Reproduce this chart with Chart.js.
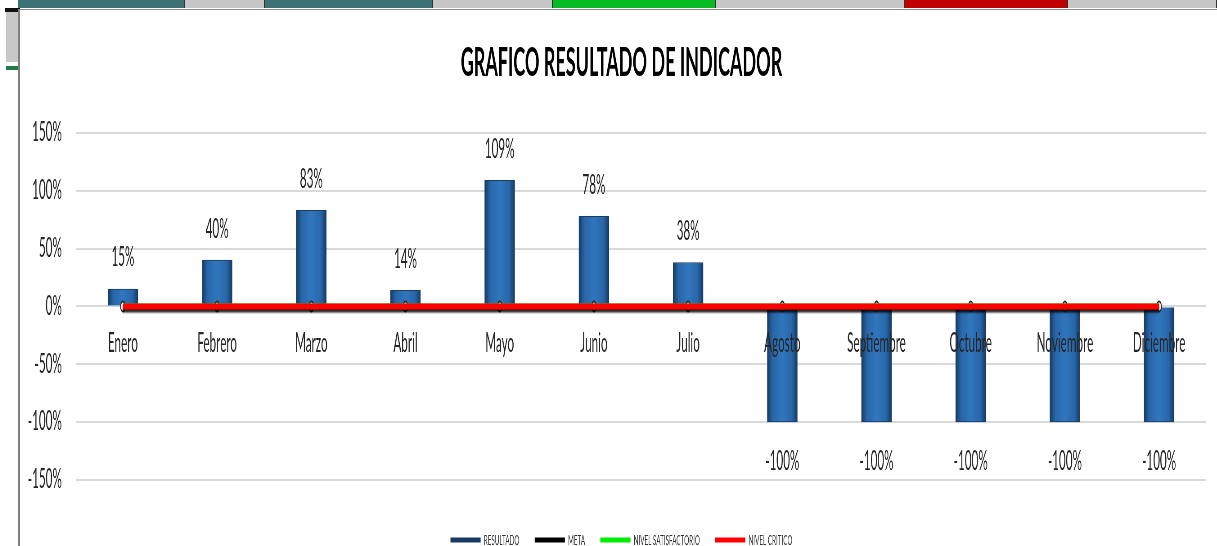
<!DOCTYPE html>
<html>
<head>
<meta charset="utf-8">
<script src="https://cdn.jsdelivr.net/npm/chart.js@4.4.1/dist/chart.umd.min.js"></script>
<style>
  body { margin: 0; background: #fff; width: 1217px; height: 546px; overflow: hidden; position: relative; }
  .cell { position: absolute; top: 0; height: 8px; border-right: 1px solid #333; box-sizing: border-box; }
  #frame { position: absolute; left: 18px; top: 9px; width: 1199px; height: 537px; box-sizing: border-box;
           border-left: 2px solid #7f7f7f; border-top: 1px solid #8c8c8c; background: #fff; overflow: hidden; }
  #squeeze { position: absolute; left: 0; top: 0; transform: scaleX(0.45); transform-origin: 0 0; }
</style>
</head>
<body>
<div class="cell" style="left:18px;width:167px;background:#3c7273"></div>
<div class="cell" style="left:185px;width:80px;background:#c6c6c6"></div>
<div class="cell" style="left:265px;width:168px;background:#3c7273"></div>
<div class="cell" style="left:433px;width:120px;background:#c6c6c6"></div>
<div class="cell" style="left:553px;width:163px;background:#08bb22"></div>
<div class="cell" style="left:716px;width:189px;background:#c6c6c6"></div>
<div class="cell" style="left:905px;width:163px;background:#c00000"></div>
<div class="cell" style="left:1068px;width:149px;background:#c6c6c6"></div>
<div style="position:absolute;left:5px;top:8px;width:15px;height:4px;background:#111"></div>
<div style="position:absolute;left:6px;top:12px;width:12px;height:50px;background:#c8c8c8"></div>
<div style="position:absolute;left:6px;top:66px;width:12px;height:4px;background:#1f7a45"></div>
<div id="frame">
  <div id="squeeze"><canvas id="chart" width="2673" height="547"></canvas></div>
</div>
<script>
// datos del indicador
const meses = ['Enero', 'Febrero', 'Marzo', 'Abril', 'Mayo', 'Junio', 'Julio', 'Agosto', 'Septiembre', 'Octubre', 'Noviembre', 'Diciembre'];
const resultado = [15, 40, 83, 14, 109, 78, 38, -100, -100, -100, -100, -100];
const meta = [0, 0, 0, 0, 0, 0, 0, 0, 0, 0, 0, 0];
const nivelSatisfactorio = [0, 0, 0, 0, 0, 0, 0, 0, 0, 0, 0, 0];
const nivelCritico = [0, 0, 0, 0, 0, 0, 0, 0, 0, 0, 0, 0];
const ejeY = [-150, -100, -50, 0, 50, 100, 150];

const FUENTE = 'Lato, "Open Sans", sans-serif';
const ANCHO_BARRA = 67;

// relleno con efecto 3D de las barras
function rellenoBarra(context) {
  const chart = context.chart;
  if (context.type !== 'data' || !chart.scales.x) return '#2a65a5';
  const x = chart.scales.x.getPixelForValue(context.dataIndex);
  if (!isFinite(x)) return '#2a65a5';
  const g = chart.ctx.createLinearGradient(x - ANCHO_BARRA / 2, 0, x + ANCHO_BARRA / 2, 0);
  g.addColorStop(0, '#163a63');
  g.addColorStop(0.18, '#2866a8');
  g.addColorStop(0.5, '#3176bd');
  g.addColorStop(0.82, '#2866a8');
  g.addColorStop(1, '#163a63');
  return g;
}

// etiquetas de valor sobre / bajo las barras
const etiquetas = {
  id: 'etiquetas',
  afterDatasetsDraw(chart) {
    const ctx = chart.ctx;
    const barras = chart.getDatasetMeta(0).data;
    ctx.save();
    ctx.font = '26px ' + FUENTE;
    ctx.fillStyle = '#262626';
    ctx.textAlign = 'center';
    ctx.textBaseline = 'middle';
    barras.forEach((bar, i) => {
      const v = resultado[i];
      const y = v >= 0 ? bar.y - 31 : bar.y + 40;
      ctx.fillText(v + '%', bar.x, y);
    });
    ctx.restore();
  }
};

// sombra bajo la linea roja
const sombra = {
  id: 'sombra',
  beforeDatasetDraw(chart, args) {
    if (args.index !== 3) return;
    const ctx = chart.ctx;
    ctx.save();
    ctx.shadowColor = 'rgba(0, 0, 0, 0.85)';
    ctx.shadowOffsetY = 3;
    ctx.shadowBlur = 2;
  },
  afterDatasetDraw(chart, args) {
    if (args.index !== 3) return;
    chart.ctx.restore();
  }
};

const ctx = document.getElementById('chart').getContext('2d');
const chart = new Chart(ctx, {
  data: {
    labels: meses,
    datasets: [
      {
        type: 'bar',
        label: 'RESULTADO',
        data: resultado,
        backgroundColor: rellenoBarra,
        borderColor: '#1a3d66',
        borderWidth: 1,
        barThickness: ANCHO_BARRA,
        order: 4
      },
      {
        type: 'line',
        label: 'META',
        data: meta,
        borderColor: '#000000',
        backgroundColor: '#000000',
        borderWidth: 3,
        pointRadius: 5,
        pointBackgroundColor: '#ffffff',
        pointBorderColor: '#222222',
        pointBorderWidth: 2,
        order: 3
      },
      {
        type: 'line',
        label: 'NIVEL SATISFACTORIO',
        data: nivelSatisfactorio,
        borderColor: '#00ee00',
        backgroundColor: '#00ee00',
        borderWidth: 6,
        pointRadius: 0,
        order: 2
      },
      {
        type: 'line',
        label: 'NIVEL CRITICO',
        data: nivelCritico,
        borderColor: '#ff0000',
        backgroundColor: '#ff0000',
        borderWidth: 6,
        pointRadius: 0,
        order: 1
      }
    ]
  },
  options: {
    responsive: false,
    animation: false,
    layout: { padding: 0 },
    scales: {
      x: {
        position: { y: 0 },
        grid: { display: false },
        border: { display: false },
        ticks: {
          z: 1,
          padding: 14,
          color: '#262626',
          font: { family: FUENTE, size: 26 },
          maxRotation: 0,
          autoSkip: false
        }
      },
      y: {
        min: ejeY[0],
        max: ejeY[ejeY.length - 1],
        afterBuildTicks: (scale) => { scale.ticks = ejeY.map(v => ({ value: v })); },
        afterFit: (scale) => { scale.width = 124; },
        grid: { color: '#d9d9d9', lineWidth: 2, drawTicks: false },
        border: { display: false },
        ticks: {
          padding: 31,
          color: '#262626',
          font: { family: FUENTE, size: 26 },
          callback: (v) => v + '%'
        }
      },
      // eje vacio a la derecha, solo reserva margen
      derecha: {
        position: 'right',
        grid: { display: false },
        border: { display: false },
        ticks: { display: false },
        afterFit: (scale) => { scale.width = 37; }
      }
    },
    plugins: {
      title: {
        display: true,
        text: 'GRAFICO RESULTADO DE INDICADOR',
        color: '#000000',
        font: { family: FUENTE, size: 40, weight: 'bold' },
        padding: { top: 29, bottom: 46 }
      },
      legend: {
        position: 'bottom',
        title: { display: true, text: ' ', font: { size: 1 }, padding: { top: 7, bottom: 11 } },
        labels: {
          boxWidth: 67,
          boxHeight: 5,
          padding: 34,
          color: '#333333',
          font: { family: FUENTE, size: 14 },
          sort: (a, b) => a.datasetIndex - b.datasetIndex,
          generateLabels: (chart) => Chart.defaults.plugins.legend.labels.generateLabels(chart).map(item => {
            item.lineWidth = 0;
            return item;
          })
        }
      },
      tooltip: { enabled: false }
    }
  },
  plugins: [etiquetas, sombra]
});
</script>
</body>
</html>
